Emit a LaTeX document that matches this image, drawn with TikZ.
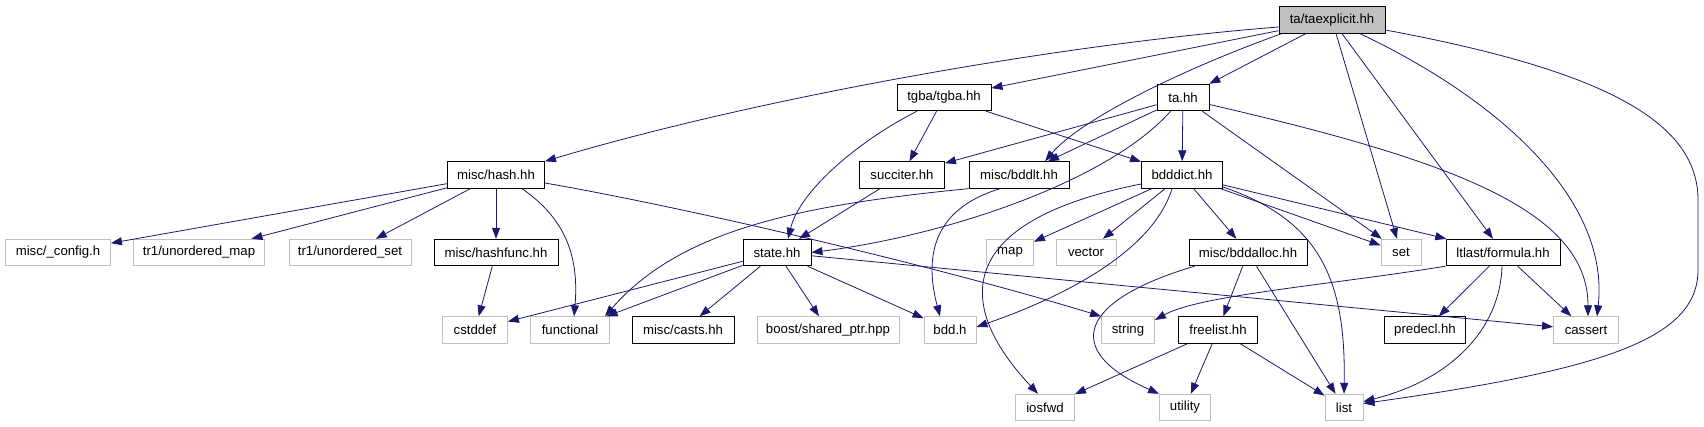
\documentclass[tikz,border=0pt]{standalone}
\usepackage{fontspec}
\setmainfont{Liberation Sans}
\usetikzlibrary{arrows.meta,calc}
\definecolor{edgeblue}{HTML}{191970}
\definecolor{boxgray}{HTML}{BFBFBF}
\tikzset{
  base/.style={rectangle, inner sep=0pt, minimum height=26.5pt,
    font=\fontsize{13.2}{15}\selectfont, line width=0.9pt},
  doc/.style={base, draw=black},
  ext/.style={base, draw=boxgray},
  root/.style={base, draw=black, fill=boxgray},
  e/.style={draw=edgeblue, color=edgeblue, line width=0.8pt,
    -{Triangle[length=11pt,width=8pt]}}
}
\begin{document}
\begin{tikzpicture}[x=1pt,y=-1pt]
\useasboundingbox (0,0) rectangle (1704,427);
% row 1
\node[root, minimum width=106pt] (tx) at (1332,20) {ta/taexplicit.hh};
% row 2
\node[doc, minimum width=94pt] (tgba) at (944,97.5) {tgba/tgba.hh};
\node[doc, minimum width=52pt] (ta) at (1183,97.5) {ta.hh};
% row 3
\node[doc, minimum width=97pt] (hash) at (496,175) {misc/hash.hh};
\node[doc, minimum width=85pt] (succ) at (902,175) {succiter.hh};
\node[doc, minimum width=100pt] (bddlt) at (1019,175) {misc/bddlt.hh};
\node[doc, minimum width=81pt] (dict) at (1182,175) {bdddict.hh};
% row 4
\node[ext, minimum width=105pt] (config) at (58,252.5) {misc/\_config.h};
\node[ext, minimum width=131pt] (umap) at (199,252.5) {tr1/unordered\_map};
\node[ext, minimum width=122pt] (uset) at (350,252.5) {tr1/unordered\_set};
\node[doc, minimum width=124pt] (hashfunc) at (496,252.5) {misc/hashfunc.hh};
\node[doc, minimum width=68pt] (state) at (777,252.5) {state.hh};
\node[ext, minimum width=47pt] (map) at (1010,252.5) {map};
\node[ext, minimum width=60pt] (vector) at (1086,252.5) {vector};
\node[doc, minimum width=118pt] (bddalloc) at (1248,252.5) {misc/bddalloc.hh};
\node[ext, minimum width=40pt] (set) at (1401,252.5) {set};
\node[doc, minimum width=114pt] (formula) at (1503,252.5) {ltlast/formula.hh};
% row 5
\node[ext, minimum width=65pt] (cstddef) at (475,330) {cstddef};
\node[ext, minimum width=79pt] (functional) at (570,330) {functional};
\node[doc, minimum width=102pt] (casts) at (683,330) {misc/casts.hh};
\node[ext, minimum width=142pt] (boost) at (828,330) {boost/shared\_ptr.hpp};
\node[ext, minimum width=52pt] (bddh) at (950,330) {bdd.h};
\node[ext, minimum width=53pt] (string) at (1128,330) {string};
\node[doc, minimum width=79pt] (freelist) at (1218,330) {freelist.hh};
\node[doc, minimum width=81pt] (predecl) at (1425,330) {predecl.hh};
\node[ext, minimum width=65pt] (cassert) at (1586,330) {cassert};
% row 6
\node[ext, minimum width=59pt] (iosfwd) at (1045,407.5) {iosfwd};
\node[ext, minimum width=51pt] (utility) at (1185,407.5) {utility};
\node[ext, minimum width=38pt] (list) at (1344,407.5) {list};

% taexplicit
\draw[e] ($(tx.west)+(0,7)$) .. controls (1050,45) and (750,100) .. (hash.north east);
\draw[e] (tx) -- (tgba);
\draw[e] (tx) -- (ta);
\draw[e] ($(tx.south west)+(3,0)$) .. controls (1180,70) and (1080,120) .. ($(bddlt.north)+(26,0)$);
\draw[e] (tx) -- (set);
\draw[e] (tx) -- (formula);
\draw[e] ($(tx.south)+(28,0)$) .. controls (1500,100) and (1610,200) .. ($(cassert.north)+(11,0)$);
\draw[e] ($(tx.east)+(0,10)$) .. controls (1600,70) and (1698,120) .. (1698,200)
   -- (1698,270) .. controls (1698,340) and (1600,370) .. ($(list.east)+(0,-4)$);
% tgba
\draw[e] ($(tgba.south)+(-27,0)$) .. controls (860,140) and (800,190) .. ($(state.north)+(11,0)$);
\draw[e] (tgba) -- (succ);
\draw[e] (tgba) -- (dict);
% ta
\draw[e] (ta) -- (succ);
\draw[e] (ta) -- (bddlt);
\draw[e] ($(ta.south west)+(14,0)$) .. controls (1110,180) and (950,235) .. (state.east);
\draw[e] (ta) -- (dict);
\draw[e] (ta) -- (set);
\draw[e] ($(ta.east)+(0,7)$) .. controls (1450,160) and (1588,210) .. ($(cassert.north)+(2,0)$);
% hash
\draw[e] (hash) -- (config);
\draw[e] (hash) -- (umap);
\draw[e] (hash) -- (uset);
\draw[e] (hash) -- (hashfunc);
\draw[e] ($(hash.south)+(26,0)$) .. controls (560,215) and (580,250) .. ($(functional.north)+(4,0)$);
\draw[e] ($(hash.east)+(0,8)$) .. controls (700,210) and (950,270) .. (string.north west);
% succiter, bddlt
\draw[e] (succ) -- (state);
\draw[e] (bddlt.south west) .. controls (800,205) and (680,230) .. ($(functional.north east)+(-5,0)$);
\draw[e] ($(bddlt.south)+(-19,0)$) .. controls (930,210) and (925,260) .. ($(bddh.north)+(-10,0)$);
% bdddict
\draw[e] (dict) -- (map);
\draw[e] (dict) -- (vector);
\draw[e] (dict) -- (bddalloc);
\draw[e] (dict) -- (set);
\draw[e] (dict) -- (formula);
\draw[e] ($(dict.east)+(0,12)$) .. controls (1320,220) and (1346,280) .. (list.north);
\draw[e] ($(dict.south)+(-10,0)$) .. controls (1150,260) and (1040,305) .. ($(bddh.east)+(0,-3)$);
\draw[e] ($(dict.west)+(0,9)$) .. controls (960,220) and (950,300) .. ($(iosfwd.north)+(-7,0)$);
% hashfunc
\draw[e] (hashfunc) -- (cstddef);
% state
\draw[e] (state) -- (cstddef);
\draw[e] (state) -- (functional);
\draw[e] (state) -- (casts);
\draw[e] (state) -- (boost);
\draw[e] (state) -- (bddh);
\draw[e] (state) -- (cassert);
% bddalloc
\draw[e] (bddalloc) -- (freelist);
\draw[e] (bddalloc) -- (list);
\draw[e] ($(bddalloc.south west)+(6,0)$) .. controls (1080,300) and (1060,350) .. (utility.north west);
% formula
\draw[e] (formula.south west) .. controls (1330,285) and (1200,295) .. ($(string.east)+(0,-10)$);
\draw[e] (formula) -- (predecl);
\draw[e] (formula) -- (cassert);
\draw[e] ($(formula.south)+(-1,0)$) .. controls (1500,330) and (1450,380) .. ($(list.east)+(0,-6)$);
% freelist
\draw[e] (freelist) -- (iosfwd);
\draw[e] (freelist) -- (utility);
\draw[e] (freelist) -- (list);
\end{tikzpicture}
\end{document}
